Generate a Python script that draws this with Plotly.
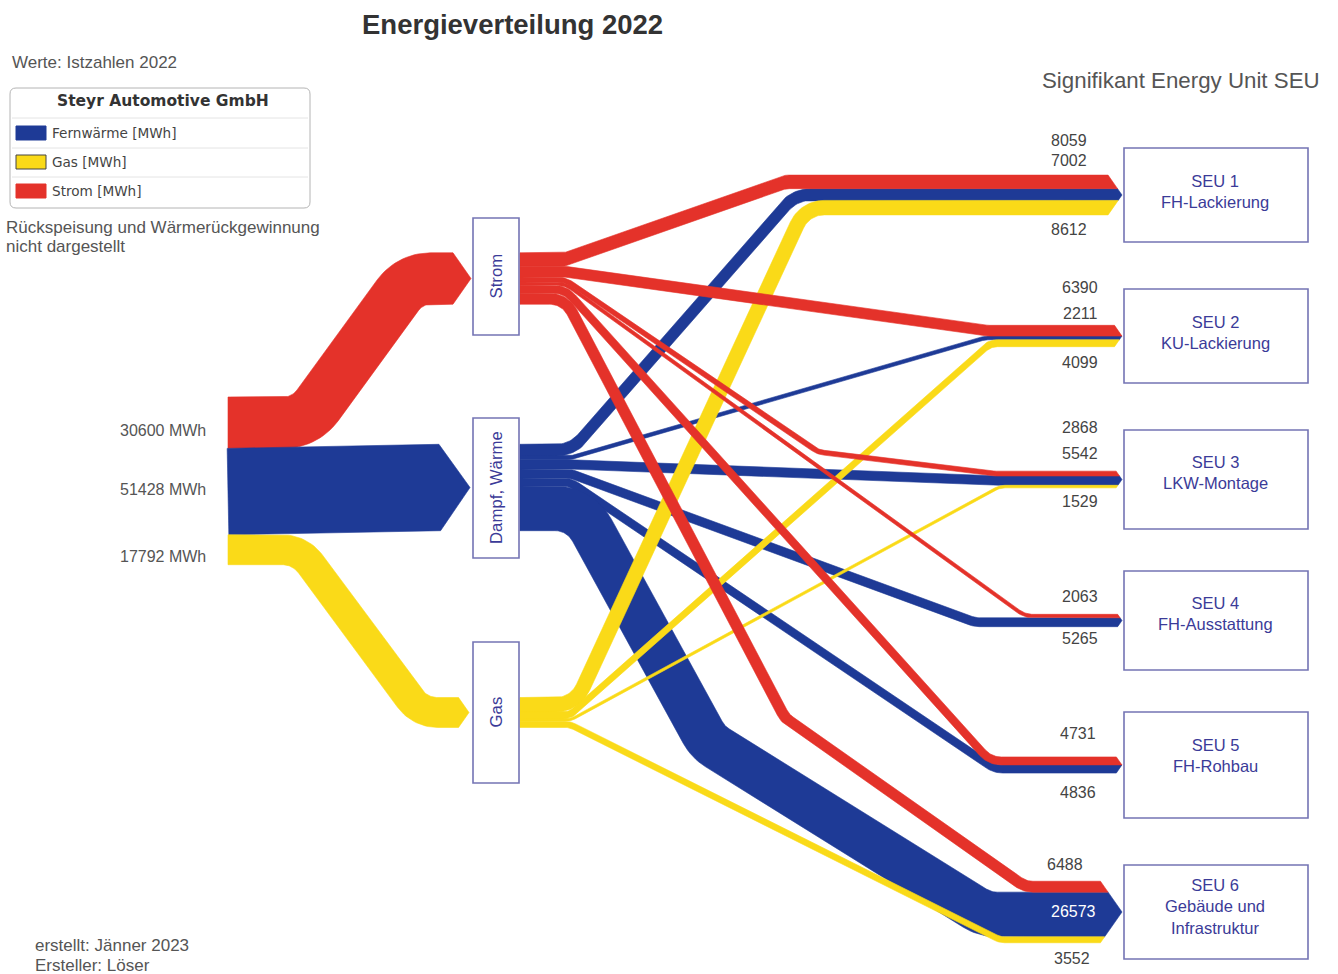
import math
import plotly.graph_objects as go

# ---------------- data ----------------
source_names = ["Strom", "Fernwärme", "Gas"]
node_labels = ["Strom", "Dampf, Wärme", "Gas"]
legend_labels = ["Fernwärme [MWh]", "Gas [MWh]", "Strom [MWh]"]
legend_sources = ["Fernwärme", "Gas", "Strom"]
source_totals = [30600, 51428, 17792]
target_codes = ["SEU 1", "SEU 2", "SEU 3", "SEU 4", "SEU 5", "SEU 6"]
target_names = ["FH-Lackierung", "KU-Lackierung", "LKW-Montage",
                "FH-Ausstattung", "FH-Rohbau", "Gebäude und<br>Infrastruktur"]
strom_mwh = [8059, 6390, 2868, 2063, 4731, 6488]
fernwaerme_mwh = [7002, 2211, 5542, 5265, 4836, 26573]
gas_mwh = [8612, 4099, 1529, 0, 0, 3552]

flows = {"Strom": strom_mwh, "Fernwärme": fernwaerme_mwh, "Gas": gas_mwh}

# ---------------- layout (pixel space) ----------------
W, H = 1338, 974
K = 0.00168            # px per MWh
FONT = "Liberation Sans, Arial, sans-serif"
COL = {"Strom": "#e4322a", "Fernwärme": "#1e3a96", "Gas": "#fada18"}
NODE_BOX = {"Strom": (473, 218, 519, 335), "Fernwärme": (473, 418, 519, 558),
            "Gas": (473, 642, 519, 783)}
NODE_CY = {"Strom": 278.5, "Fernwärme": 487.5, "Gas": 712.5}
TGT_BOX_Y = [(148, 242), (289, 383), (430, 529), (571, 670), (712, 818), (865, 959)]
TGT_X0, TGT_X1 = 1124, 1308
TGT_TEXT_Y = [191.5, 332.5, 472.5, 613.5, 755.5, 906]
TIP_X = 1122
FLOW_X0 = 520
IN_X0, IN_TOP = 228, 397
BOX_LINE = "#7474b4"
TXT_BLUE = "#3b3b98"

# route: (end of start run, intermediate points, start of final horizontal, fillet radius)
ROUTES = {
    "Strom": [(565, [], 785, 25), (565, [], 988, 25), (565, [(818, 452)], 995, 25),
              (565, [], 1025, 25), (565, [], 990, 25), (565, [(785, 718)], 1025, 25)],
    "Fernwärme": [(572, [], 795, 35), (570, [], 985, 20), (570, [], 1000, 20),
                  (570, [], 975, 25), (570, [], 995, 25), (580, [(708, 742)], 985, 42)],
    "Gas": [(575, [], 805, 30), (570, [], 990, 20), (570, [], 1000, 20),
            None, None, (570, [], 1000, 20)],
}

LABEL_POS = [
    [(1089, 140), (1089, 160), (1089, 229)],
    [(1100, 287), (1100, 313), (1100, 362)],
    [(1100, 427), (1100, 453), (1100, 501)],
    [(1100, 596), (1100, 638), None],
    [(1098, 733), (1098, 792), None],
    [(1085, 864), (1098, 911), (1092, 958)],
]
IN_LABEL_Y = [430, 489, 556]


def unit(dx, dy):
    L = math.hypot(dx, dy)
    if L < 1e-9:
        return 1.0, 0.0, 0.0
    return dx / L, dy / L, L


def fillet(pts, r0):
    out = [pts[0]]
    for i in range(1, len(pts) - 1):
        (x0, y0), (x1, y1), (x2, y2) = pts[i - 1], pts[i], pts[i + 1]
        ax, ay, L1 = unit(x1 - x0, y1 - y0)
        bx, by, L2 = unit(x2 - x1, y2 - y1)
        dot = max(-1.0, min(1.0, ax * bx + ay * by))
        ang = math.acos(dot)
        if ang < 1e-3:
            out.append((x1, y1))
            continue
        r = r0
        t = r * math.tan(ang / 2)
        tmax = min(0.48 * L1, 0.48 * L2)
        if t > tmax:
            t = tmax
            r = t / math.tan(ang / 2)
        px, py = x1 - ax * t, y1 - ay * t
        qx, qy = x1 + bx * t, y1 + by * t
        cross = ax * by - ay * bx
        nx, ny = (-ay, ax) if cross > 0 else (ay, -ax)
        cx, cy = px + nx * r, py + ny * r
        a0 = math.atan2(py - cy, px - cx)
        a1 = math.atan2(qy - cy, qx - cx)
        da = a1 - a0
        while da > math.pi:
            da -= 2 * math.pi
        while da < -math.pi:
            da += 2 * math.pi
        n = max(4, int(abs(da) / 0.06))
        for k in range(n + 1):
            a = a0 + da * k / n
            out.append((cx + r * math.cos(a), cy + r * math.sin(a)))
    out.append(pts[-1])
    return out


def offset(cl, d):
    top, bot = [], []
    n = len(cl)
    for i in range(n):
        x, y = cl[i]
        if i == 0:
            tx, ty, _ = unit(cl[1][0] - x, cl[1][1] - y)
            s = 1.0
        elif i == n - 1:
            tx, ty, _ = unit(x - cl[-2][0], y - cl[-2][1])
            s = 1.0
        else:
            ax, ay, _ = unit(x - cl[i - 1][0], y - cl[i - 1][1])
            bx, by, _ = unit(cl[i + 1][0] - x, cl[i + 1][1] - y)
            tx, ty, _ = unit(ax + bx, ay + by)
            s = 1.0 / max(0.25, tx * ax + ty * ay)
        nx, ny = -ty, tx
        top.append((x - nx * d * s, y - ny * d * s))
        bot.append((x + nx * d * s, y + ny * d * s))
    return top, bot


fig = go.Figure()


def add_poly(pts, color):
    xs = [p[0] for p in pts] + [pts[0][0]]
    ys = [p[1] for p in pts] + [pts[0][1]]
    fig.add_trace(go.Scatter(x=xs, y=ys, mode="lines", fill="toself",
                             fillcolor=color, line=dict(color=color, width=0.6),
                             hoverinfo="skip", showlegend=False))


# ---- input bands (left) ----
in_w = [v * K for v in source_totals]
in_cy = []
acc = IN_TOP
for w in in_w:
    in_cy.append(acc + w / 2)
    acc += w
in_routes = {
    "Strom": lambda y0, y1, xe: [(IN_X0, y0), (305, y0), (410, y1), (xe, y1)],
    "Fernwärme": lambda y0, y1, xe: [(IN_X0, y0), (xe, y1)],
    "Gas": lambda y0, y1, xe: [(IN_X0, y0), (300, y0), (420, y1), (xe, y1)],
}
in_tip = {"Strom": 471, "Fernwärme": 470, "Gas": 469}
in_r = {"Strom": 42, "Fernwärme": 40, "Gas": 35}
for s_i, s in enumerate(source_names):
    w = in_w[s_i]
    L = 0.35 * w
    xe = in_tip[s] - L
    cl = fillet(in_routes[s](in_cy[s_i], NODE_CY[s], xe), in_r[s])
    top, bot = offset(cl, w / 2)
    poly = top + [(in_tip[s], NODE_CY[s])] + bot[::-1]
    add_poly(poly, COL[s])

# ---- slots ----
src_slot = {}
for s in source_names:
    tot = sum(flows[s]) * K
    acc = NODE_CY[s] - tot / 2
    src_slot[s] = []
    for v in flows[s]:
        w = v * K
        src_slot[s].append(acc + w / 2)
        acc += w

tgt_slot = {s: [None] * 6 for s in source_names}
tgt_geom = []
for t in range(6):
    cy = (TGT_BOX_Y[t][0] + TGT_BOX_Y[t][1]) / 2
    tot = sum(flows[s][t] for s in source_names) * K
    acc = cy - tot / 2
    for s in source_names:
        w = flows[s][t] * K
        tgt_slot[s][t] = acc + w / 2
        acc += w
    half = tot / 2
    tgt_geom.append((cy, half, 0.7 * half))

# ---- flows ----
for s in ["Fernwärme", "Gas", "Strom"]:
    for t in range(6):
        v = flows[s][t]
        if v <= 0:
            continue
        run, mids, xf, r = ROUTES[s][t]
        w = v * K
        ys, yt = src_slot[s][t], tgt_slot[s][t]
        cy, half, L = tgt_geom[t]
        pts = [(FLOW_X0, ys), (run, ys)] + mids + [(xf, yt), (TIP_X - L, yt)]
        cl = fillet(pts, r)
        top, bot = offset(cl, w / 2)

        def xend(y):
            return TIP_X - L * min(1.0, abs(y - cy) / half)
        ty_, by_ = top[-1][1], bot[-1][1]
        top[-1] = (xend(ty_), ty_)
        bot[-1] = (xend(by_), by_)
        tip = [(TIP_X, cy)] if ty_ < cy < by_ else []
        add_poly(top + tip + bot[::-1], COL[s])

# ---- shapes: boxes ----
shapes = []
for s in source_names:
    x0, y0, x1, y1 = NODE_BOX[s]
    shapes.append(dict(type="rect", xref="x", yref="y", x0=x0, y0=y0, x1=x1, y1=y1,
                       line=dict(color=BOX_LINE, width=1.6), fillcolor="white", layer="above"))
for t in range(6):
    y0, y1 = TGT_BOX_Y[t]
    shapes.append(dict(type="rect", xref="x", yref="y", x0=TGT_X0, y0=y0, x1=TGT_X1, y1=y1,
                       line=dict(color=BOX_LINE, width=1.6), fillcolor="white", layer="above"))

# legend box
shapes.append(dict(type="path", xref="x", yref="y",
                   path="M 16,88 L 304,88 Q 310,88 310,94 L 310,202 Q 310,208 304,208 "
                        "L 16,208 Q 10,208 10,202 L 10,94 Q 10,88 16,88 Z",
                   line=dict(color="#b4b4b4", width=1), fillcolor="white", layer="below"))
for yl in [118, 148, 177]:
    shapes.append(dict(type="line", xref="x", yref="y", x0=12, x1=308, y0=yl, y1=yl,
                       line=dict(color="#e4e4e4", width=1)))
leg_y = [133, 162, 191]
for i, s in enumerate(legend_sources):
    shapes.append(dict(type="rect", xref="x", yref="y", x0=16, x1=46,
                       y0=leg_y[i] - 7, y1=leg_y[i] + 7, fillcolor=COL[s],
                       line=dict(color="#444444" if s == "Gas" else COL[s], width=1)))

annotations = []


def txt(x, y, text, size=16, color="#555555", xanchor="left", bold=False, family=FONT,
        angle=0, align="left"):
    annotations.append(dict(x=x, y=y, xref="x", yref="y", text=f"<b>{text}</b>" if bold else text,
                            showarrow=False, xanchor=xanchor, yanchor="middle",
                            textangle=angle, align=align,
                            font=dict(size=size, color=color, family=family)))


txt(512, 24, "Energieverteilung 2022", size=27.5, color="#333333", xanchor="center", bold=True)
txt(10, 62, "Werte: Istzahlen 2022", size=17)
txt(163, 101, "Steyr Automotive GmbH", size=15.5, color="#333333", xanchor="center", bold=True,
    family="DejaVu Sans, Verdana, sans-serif")
for i, lab in enumerate(legend_labels):
    txt(50, leg_y[i], lab, size=13.6, color="#444444", family="DejaVu Sans, Verdana, sans-serif")
txt(4, 227, "Rückspeisung und Wärmerückgewinnung", size=17)
txt(4, 246, "nicht dargestellt", size=17)
txt(1322, 80, "Signifikant Energy Unit SEU", size=22.3, xanchor="right")
txt(33, 945, "erstellt: Jänner 2023", size=17)
txt(33, 965, "Ersteller: Löser", size=17)

for i, v in enumerate(source_totals):
    txt(208, IN_LABEL_Y[i], f"{v} MWh", size=16, xanchor="right")

for i, s in enumerate(source_names):
    x0, y0, x1, y1 = NODE_BOX[s]
    txt((x0 + x1) / 2, (y0 + y1) / 2, node_labels[i], size=16.8, color=TXT_BLUE,
        xanchor="center", angle=-90)

for t in range(6):
    txt((TGT_X0 + TGT_X1) / 2 - 1, TGT_TEXT_Y[t], f"{target_codes[t]}<br>{target_names[t]}",
        size=16.5, color=TXT_BLUE, xanchor="center", align="center")
    for k, s in enumerate(source_names):
        v = flows[s][t]
        pos = LABEL_POS[t][k]
        if v <= 0 or pos is None:
            continue
        white = (t == 5 and s == "Fernwärme")
        txt(pos[0], pos[1], str(v), size=16, color="white" if white else "#444444",
            xanchor="right")

fig.update_layout(
    width=W, height=H, margin=dict(l=0, r=0, t=0, b=0), autosize=False,
    paper_bgcolor="white", plot_bgcolor="white", showlegend=False,
    xaxis=dict(range=[0, W], visible=False, fixedrange=True),
    yaxis=dict(range=[H, 0], visible=False, fixedrange=True),
    shapes=shapes, annotations=annotations,
)
fig.write_html("out.html")
